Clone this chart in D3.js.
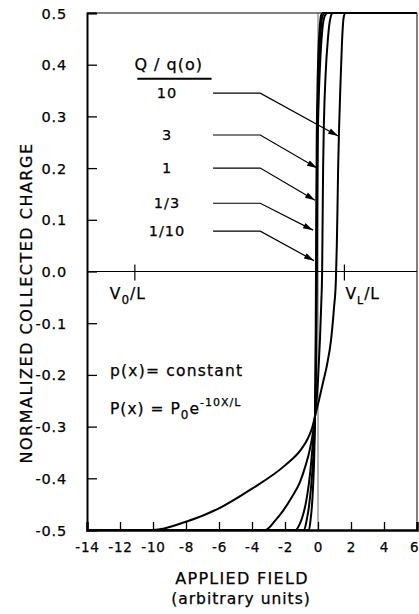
<!DOCTYPE html>
<html lang="en">
<head>
    <meta charset="UTF-8">
    <title>Collected charge</title>
    <style>
        body { margin: 0; background: white; }
        text { font-family: "DejaVu Sans", sans-serif; fill: black; stroke: black; stroke-width: 0.25px; }
    </style>
    <script src="https://d3js.org/d3.v7.min.js"></script>
</head>
<body>
    <script>
    // axis ticks
    const xTicks = [-14, -12, -10, -8, -6, -4, -2, 0, 2, 4, 6]
    const xTickLabels = ["-14", "-12", "-10", "-8", "-6", "-4", "-2", "0", "2", "4", "6"]
    const yTicks = [-0.5, -0.4, -0.3, -0.2, -0.1, 0.0, 0.1, 0.2, 0.3, 0.4, 0.5]
    const yTickLabels = ["-0.5", "-0.4", "-0.3", "-0.2", "-0.1", "0.0", "0.1", "0.2", "0.3", "0.4", "0.5"]

    // Q/q(o) values as [field, charge]
    const seriesNames = ["10", "3", "1", "1/3", "1/10"]
    const curve10 = [[-14,-0.5],[-10,-0.5],[-8,-0.484],[-6,-0.458],[-4,-0.42],[-2,-0.375],[-1,-0.343],[-0.6,-0.322],
        [-0.35,-0.302],[-0.18,-0.28],[0.05,-0.25],[0.3,-0.215],[0.55,-0.18],[0.8,-0.13],[0.97,-0.07],[1.08,-0.02],
        [1.14,0.05],[1.18,0.12],[1.22,0.2],[1.28,0.28],[1.36,0.36],[1.45,0.44],[1.55,0.49],[1.65,0.5],[6,0.5]]
    const curve3 = [[-14,-0.5],[-3.2,-0.5],[-2.6,-0.482],[-2.1,-0.462],[-1.6,-0.437],[-1.1,-0.408],[-0.75,-0.375],
        [-0.5,-0.345],[-0.3,-0.31],[-0.18,-0.28],[0,-0.21],[0.12,-0.13],[0.2,-0.06],[0.25,0],[0.28,0.1],[0.31,0.2],
        [0.36,0.29],[0.46,0.38],[0.6,0.45],[0.75,0.49],[0.9,0.5],[6,0.5]]
    const curve1 = [[-14,-0.5],[-1.35,-0.5],[-1.1,-0.488],[-0.9,-0.47],[-0.72,-0.445],[-0.55,-0.41],[-0.4,-0.365],
        [-0.28,-0.32],[-0.18,-0.28],[-0.12,-0.18],[-0.09,-0.08],[-0.07,0],[-0.05,0.12],[-0.02,0.24],[0.04,0.33],
        [0.14,0.41],[0.27,0.47],[0.42,0.495],[0.58,0.5],[6,0.5]]
    const curveThird = [[-14,-0.5],[-0.85,-0.5],[-0.68,-0.48],[-0.55,-0.455],[-0.43,-0.42],[-0.33,-0.38],[-0.25,-0.34],
        [-0.19,-0.29],[-0.15,-0.22],[-0.12,-0.12],[-0.1,0],[-0.08,0.12],[-0.05,0.24],[0,0.34],[0.08,0.42],
        [0.17,0.47],[0.28,0.495],[0.42,0.5],[6,0.5]]
    const curveTenth = [[-14,-0.5],[-0.55,-0.5],[-0.45,-0.48],[-0.36,-0.45],[-0.29,-0.41],[-0.23,-0.36],[-0.19,-0.3],
        [-0.16,-0.22],[-0.14,-0.12],[-0.12,0],[-0.1,0.12],[-0.08,0.24],[-0.04,0.34],[0.02,0.42],[0.1,0.47],
        [0.18,0.495],[0.28,0.5],[6,0.5]]
    const curves = [curve10, curve3, curve1, curveThird, curveTenth]

    // leader lines: label height and where each arrow lands
    const labelY = [0.345, 0.264, 0.2, 0.132, 0.078]
    const tipX = [1.22, -0.06, -0.18, -0.3, -0.24]
    const tipY = [0.262, 0.2, 0.138, 0.08, 0.021]

    // field limits marked on the zero line
    const limitX = [-11.1, 1.6]

    var svg = d3.select("body").append("svg")
        .attr("width", 419)
        .attr("height", 614)

    var x = d3.scaleLinear().domain([-14, 6]).range([87, 417])
    var y = d3.scaleLinear().domain([-0.5, 0.5]).range([530, 13])

    // arrow head for the leaders
    svg.append("defs").append("marker")
        .attr("id", "arrow")
        .attr("viewBox", "0 0 10 6")
        .attr("refX", 10).attr("refY", 3)
        .attr("markerWidth", 13).attr("markerHeight", 6)
        .attr("markerUnits", "userSpaceOnUse")
        .attr("orient", "auto")
        .append("path")
        .attr("d", "M0,0 L10,3 L0,6 Z")

    // frame: top/right border, zero lines
    svg.append("line").attr("x1", x(-14)).attr("x2", x(6)).attr("y1", y(0.5)).attr("y2", y(0.5))
        .attr("stroke", "black").attr("stroke-width", 1.2)
    svg.append("line").attr("x1", x(6)).attr("x2", x(6)).attr("y1", y(0.5)).attr("y2", y(-0.5))
        .attr("stroke", "black").attr("stroke-width", 1)
    svg.append("line").attr("x1", x(-14)).attr("x2", x(6)).attr("y1", y(0)).attr("y2", y(0))
        .attr("stroke", "black").attr("stroke-width", 1)
    svg.append("line").attr("x1", x(0)).attr("x2", x(0)).attr("y1", y(0.5)).attr("y2", y(-0.5))
        .attr("stroke", "#444").attr("stroke-width", 0.8)

    // left axis with inward ticks
    var yAxis = d3.axisLeft(y).tickValues(yTicks).tickSize(-10).tickPadding(20)
        .tickFormat((d, i) => yTickLabels[i])
    var gy = svg.append("g").attr("transform", "translate(" + x(-14) + ",0)").call(yAxis)
    gy.select(".domain").attr("stroke-width", 2)
    gy.selectAll(".tick line").attr("stroke-width", 1.3)
    gy.selectAll("text").style("font-size", "14.5px").style("font-family", "DejaVu Sans")
        .attr("dy", "0.35em").attr("letter-spacing", "0.8")

    // bottom axis with inward ticks
    var xAxis = d3.axisBottom(x).tickValues(xTicks).tickSize(-8).tickPadding(12)
        .tickFormat((d, i) => xTickLabels[i])
    var gx = svg.append("g").attr("transform", "translate(0," + y(-0.5) + ")").call(xAxis)
    gx.select(".domain").attr("stroke-width", 2.5)
    gx.selectAll(".tick line").attr("stroke-width", 1.3)
    gx.selectAll("text").style("font-size", "13.5px").style("font-family", "DejaVu Sans")
        .attr("letter-spacing", "0.8")
    // last label sits against the window edge
    gx.selectAll("text").filter(d => d === 6).attr("text-anchor", "end").attr("x", 2)

    // the charge curves
    var line = d3.line().x(d => x(d[0])).y(d => y(d[1])).curve(d3.curveMonotoneX)
    svg.selectAll(".curve")
        .data(curves)
        .enter()
        .append("path")
        .attr("class", "curve")
        .attr("d", line)
        .attr("fill", "none")
        .attr("stroke", "black")
        .attr("stroke-width", 2)

    // V0/L and VL/L marks
    svg.selectAll(".limit")
        .data(limitX)
        .enter()
        .append("line")
        .attr("class", "limit")
        .attr("x1", d => x(d)).attr("x2", d => x(d))
        .attr("y1", y(0) - 7).attr("y2", y(0) + 9)
        .attr("stroke", "black").attr("stroke-width", 1.2)

    var v0 = svg.append("text").attr("x", x(limitX[0]) - 25).attr("y", y(0) + 27)
        .style("font-size", "15.5px").attr("letter-spacing", "1")
    v0.append("tspan").text("V")
    v0.append("tspan").text("0").attr("dy", 5).style("font-size", "12px")
    v0.append("tspan").text("/L").attr("dy", -5)

    var vl = svg.append("text").attr("x", x(limitX[1]) + 1).attr("y", y(0) + 27)
        .style("font-size", "15.5px").attr("letter-spacing", "1")
    vl.append("tspan").text("V")
    vl.append("tspan").text("L").attr("dy", 5).style("font-size", "11px")
    vl.append("tspan").text("/L").attr("dy", -5)

    // legend heading
    svg.append("text").attr("x", x(-9.05)).attr("y", y(0.39))
        .attr("text-anchor", "middle").style("font-size", "16px").attr("letter-spacing", "1")
        .text("Q / q(o)")
    svg.append("line").attr("x1", x(-10.95)).attr("x2", x(-6.45)).attr("y1", y(0.373)).attr("y2", y(0.373))
        .attr("stroke", "black").attr("stroke-width", 2)

    // labels and their leaders
    svg.selectAll(".qlabel")
        .data(seriesNames)
        .enter()
        .append("text")
        .attr("class", "qlabel")
        .attr("x", x(-9.15))
        .attr("y", (d, i) => y(labelY[i]) + 5)
        .attr("text-anchor", "middle")
        .style("font-size", "14.5px")
        .attr("letter-spacing", "1")
        .text(d => d)

    svg.selectAll(".leader")
        .data(seriesNames)
        .enter()
        .append("path")
        .attr("class", "leader")
        .attr("d", (d, i) => "M" + x(-6.36) + "," + y(labelY[i]) + " L" + x(-3.5) + "," + y(labelY[i]) +
            " L" + x(tipX[i]) + "," + y(tipY[i]))
        .attr("fill", "none")
        .attr("stroke", "black")
        .attr("stroke-width", 1.2)
        .attr("marker-end", "url(#arrow)")

    // density profile notes
    svg.append("text").attr("x", 110).attr("y", 376)
        .style("font-size", "15.5px").attr("letter-spacing", "1.2")
        .text("p(x)= constant")
    var px = svg.append("text").attr("x", 110).attr("y", 414)
        .style("font-size", "15.5px").attr("letter-spacing", "1")
    px.append("tspan").text("P(x) = P")
    px.append("tspan").text("0").attr("dy", 5).style("font-size", "12px")
    px.append("tspan").text("e").attr("dy", -5)
    px.append("tspan").text("-10X/L").attr("dy", -8).style("font-size", "11px")

    // axis titles
    svg.append("text")
        .attr("transform", "translate(32,303) rotate(-90)")
        .attr("text-anchor", "middle")
        .style("font-size", "16px")
        .attr("letter-spacing", "1.5")
        .text("NORMALIZED COLLECTED CHARGE")

    svg.append("text").attr("x", 242).attr("y", 584)
        .attr("text-anchor", "middle").style("font-size", "16px").attr("letter-spacing", "1.3")
        .text("APPLIED FIELD")
    svg.append("text").attr("x", 241).attr("y", 604)
        .attr("text-anchor", "middle").style("font-size", "15.5px").attr("letter-spacing", "1")
        .text("(arbitrary units)")
    </script>
</body>
</html>
